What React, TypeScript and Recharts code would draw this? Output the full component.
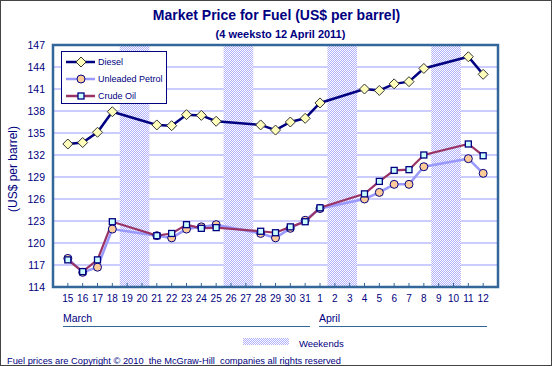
import React from 'react';
import { ComposedChart, Line, XAxis, YAxis, CartesianGrid, ReferenceArea, Legend } from 'recharts';

// all calendar days shown on the axis (15 March .. 12 April 2011)
const dayLabels = ['15', '16', '17', '18', '19', '20', '21', '22', '23', '24', '25', '26', '27', '28', '29', '30', '31',
    '1', '2', '3', '4', '5', '6', '7', '8', '9', '10', '11', '12'];

// days with a price (weekends have none)
const tradingDays = ['15', '16', '17', '18', '21', '22', '23', '24', '25', '28', '29', '30', '31',
    '1', '4', '5', '6', '7', '8', '11', '12'];

const diesel = [133.5, 133.7, 135.1, 137.9, 136.1, 136.0, 137.5, 137.4, 136.6, 136.1, 135.4, 136.5, 137.0,
    139.1, 141.0, 140.8, 141.7, 142.0, 143.8, 145.4, 143.0];
const unleaded = [117.9, 116.0, 116.7, 121.9, 121.0, 120.7, 121.9, 122.2, 122.5, 121.3, 120.7, 122.0, 123.1,
    124.7, 126.0, 126.9, 128.0, 128.0, 130.4, 131.5, 129.5];
const crude = [117.7, 116.1, 117.7, 122.9, 121.0, 121.3, 122.5, 122.0, 122.1, 121.6, 121.4, 122.2, 122.9,
    124.8, 126.7, 128.4, 129.9, 130.0, 132.0, 133.5, 131.9];

const weekends = [['19', '20'], ['26', '27'], ['2', '3'], ['9', '10']];

const yTicks = [114, 117, 120, 123, 126, 129, 132, 135, 138, 141, 144, 147];

const NAVY = '#000080';
const FRAME = '#336699';
const FONT = 'Arial, "Liberation Sans", sans-serif';

const pos = (d: string) => dayLabels.indexOf(d) + 1;

const data = tradingDays.map((d, i) => ({
    x: pos(d),
    diesel: diesel[i],
    unleaded: unleaded[i],
    crude: crude[i],
}));

const DiamondDot = (p: any) => {
    const { cx, cy } = p;
    if (cx == null || cy == null) return null;
    const r = 5;
    return <polygon key={`d-${cx}`} points={`${cx},${cy - r} ${cx + r},${cy} ${cx},${cy + r} ${cx - r},${cy}`}
        fill="#ffffbb" stroke="#333333" strokeWidth={1} />;
};

const CircleDot = (p: any) => {
    const { cx, cy } = p;
    if (cx == null || cy == null) return null;
    return <circle key={`c-${cx}`} cx={cx} cy={cy} r={4} fill="#ffcc99" stroke={NAVY} strokeWidth={1} />;
};

const SquareDot = (p: any) => {
    const { cx, cy } = p;
    if (cx == null || cy == null) return null;
    return <rect key={`s-${cx}`} x={cx - 3} y={cy - 3} width={6} height={6} fill="#ccffff" stroke={NAVY} strokeWidth={1.3} />;
};

const legendItems = [
    { name: 'Diesel', color: NAVY, Dot: DiamondDot },
    { name: 'Unleaded Petrol', color: '#9999ff', Dot: CircleDot },
    { name: 'Crude Oil', color: '#993366', Dot: SquareDot },
];

const FuelLegend = () => (
    <div style={{ width: 106, height: 53, border: `1.5px solid ${NAVY}`, background: '#fff', boxSizing: 'border-box', paddingTop: 1 }}>
        {legendItems.map(item => (
            <div key={item.name} style={{ display: 'flex', alignItems: 'center', height: 17, whiteSpace: 'nowrap' }}>
                <svg width={32} height={12} style={{ marginLeft: 3, flex: 'none' }}>
                    <line x1={1} y1={6} x2={30} y2={6} stroke={item.color} strokeWidth={2.5} />
                    <item.Dot cx={16} cy={6} />
                </svg>
                <span style={{ fontFamily: FONT, fontSize: 9, color: NAVY, marginLeft: 1 }}>{item.name}</span>
            </div>
        ))}
    </div>
);

const Hatch = ({ id }: { id: string }) => (
    <defs>
        <pattern id={id} width={2} height={2} patternUnits="userSpaceOnUse">
            <rect width={2} height={2} fill="#ffffff" />
            <rect width={1} height={1} fill="#b0b0ff" />
            <rect x={1} y={1} width={1} height={1} fill="#b0b0ff" />
        </pattern>
    </defs>
);

export default function App() {
    return (
        <div style={{ position: 'absolute', left: 0, top: 0, width: 552, height: 366, background: '#fff',
            border: '1px solid #444', boxSizing: 'border-box', fontFamily: FONT, color: NAVY }}>
            <div style={{ position: 'absolute', left: -1, top: 0, width: 552, height: 366 }}>
                <ComposedChart width={552} height={366} data={data} margin={{ top: 44, right: 54, bottom: 50, left: 13 }}>
                    <Hatch id="hatch" />
                    {weekends.map(([a, b]) => (
                        <ReferenceArea key={a} x1={pos(a) - 0.5} x2={pos(b) + 0.5} y1={114} y2={147}
                            fill="url(#hatch)" fillOpacity={1} stroke="none" />
                    ))}
                    <CartesianGrid horizontal vertical={false} stroke="#9999ff" strokeWidth={1} />
                    <XAxis type="number" dataKey="x" domain={[0, 30]} ticks={dayLabels.map((_, i) => i + 1)}
                        interval={0} tickFormatter={(v: number) => dayLabels[v - 1]} height={30}
                        axisLine={false} tickSize={-4} tickMargin={12} tickLine={{ stroke: FRAME }}
                        tick={{ fill: NAVY, fontSize: 10, fontFamily: FONT }} />
                    <YAxis type="number" domain={[114, 147]} ticks={yTicks} interval={0} width={40}
                        axisLine={false} tickLine={false} tickSize={0} tickMargin={8}
                        tick={{ fill: NAVY, fontSize: 10.5, fontFamily: FONT }} />
                    <Line type="linear" dataKey="unleaded" name="Unleaded Petrol" stroke="#9999ff" strokeWidth={2.5}
                        dot={CircleDot} activeDot={false} isAnimationActive={false} />
                    <Line type="linear" dataKey="crude" name="Crude Oil" stroke="#993366" strokeWidth={2.2}
                        dot={SquareDot} activeDot={false} isAnimationActive={false} />
                    <Line type="linear" dataKey="diesel" name="Diesel" stroke={NAVY} strokeWidth={2.5}
                        dot={DiamondDot} activeDot={false} isAnimationActive={false} />
                    <ReferenceArea x1={0} x2={30} y1={114} y2={147} fill="none" stroke={FRAME} strokeWidth={2.5} />
                    <Legend layout="vertical" align="center" verticalAlign="middle" content={FuelLegend}
                        wrapperStyle={{ left: 61, top: 50, width: 'auto' }} />
                </ComposedChart>
            </div>
            <div style={{ position: 'absolute', left: 0, width: 551, top: 6, textAlign: 'center', fontSize: 14,
                fontWeight: 'bold', lineHeight: '16px' }}>Market Price for Fuel (US$ per barrel)</div>
            <div style={{ position: 'absolute', left: 4, width: 551, top: 26, textAlign: 'center', fontSize: 11,
                fontWeight: 'bold', lineHeight: '14px' }}>(4 weeksto 12 April 2011)</div>
            <div style={{ position: 'absolute', left: 12, top: 168, fontSize: 12, lineHeight: '14px', whiteSpace: 'nowrap',
                transform: 'translate(-50%, -50%) rotate(-90deg)' }}>(US$ per barrel)</div>
            <div style={{ position: 'absolute', left: 62, top: 310, width: 247, borderBottom: `1.5px solid ${FRAME}`,
                fontSize: 10.5, lineHeight: '14px', paddingBottom: 1 }}>March</div>
            <div style={{ position: 'absolute', left: 318, top: 310, width: 168, borderBottom: `1.5px solid ${FRAME}`,
                fontSize: 10.5, lineHeight: '14px', paddingBottom: 1 }}>April</div>
            <div style={{ position: 'absolute', left: 242, top: 337, width: 46, height: 7 }}>
                <svg width={46} height={7} style={{ display: 'block' }}>
                    <Hatch id="hatch-key" />
                    <rect width={46} height={7} fill="url(#hatch-key)" />
                </svg>
            </div>
            <div style={{ position: 'absolute', left: 298, top: 337, fontSize: 9.5, lineHeight: '12px' }}>Weekends</div>
            <div style={{ position: 'absolute', left: 6, top: 354, fontSize: 9.3, lineHeight: '12px', whiteSpace: 'nowrap' }}>
                Fuel prices are Copyright © 2010&nbsp; the McGraw-Hill&nbsp; companies all rights reserved
            </div>
        </div>
    );
}
